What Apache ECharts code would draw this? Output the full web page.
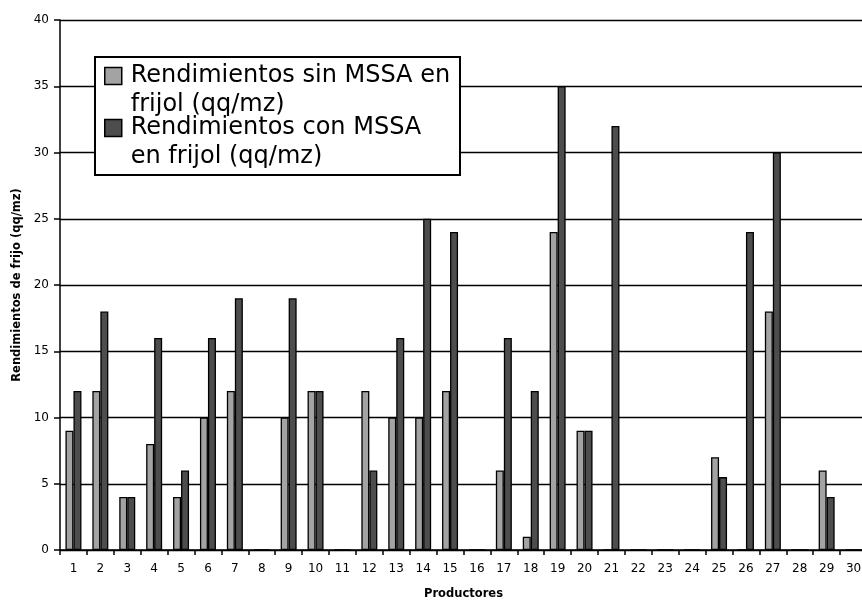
<!DOCTYPE html>
<html>
<head>
<meta charset="utf-8">
<script src="https://cdn.jsdelivr.net/npm/echarts@6/dist/echarts.min.js"></script>
<style>html,body{margin:0;padding:0;background:#fff;}#c{width:862px;height:601px;}</style>
</head>
<body>
<div id="c"></div>
<script>
var categories = ['1','2','3','4','5','6','7','8','9','10','11','12','13','14','15','16','17','18','19','20','21','22','23','24','25','26','27','28','29','30'];
var sinMSSA = [9,12,4,8,4,10,12,0,10,12,0,12,10,10,12,0,6,1,24,9,0,0,0,0,7,0,18,0,6,0];
var conMSSA = [12,18,4,16,6,16,19,0,19,12,0,6,16,25,24,0,16,12,35,9,32,0,0,0,5.5,24,30,0,4,0];
var seriesNames = ['Rendimientos sin MSSA en frijol (qq/mz)', 'Rendimientos con MSSA en frijol (qq/mz)'];
var legendLabels = ['Rendimientos sin MSSA en\nfrijol (qq/mz)', 'Rendimientos con MSSA\nen frijol (qq/mz)'];
var yTicks = {min: 0, max: 40, interval: 5};
var xTitle = 'Productores';
var yTitle = 'Rendimientos de frijo (qq/mz)';

var chart = echarts.init(document.getElementById('c'), null, {renderer: 'canvas'});
var font = 'DejaVu Sans';
chart.setOption({
  animation: false,
  backgroundColor: '#ffffff',
  grid: {left: 60, top: 20, width: 807, height: 530, containLabel: false, outerBoundsMode: 'none'},
  graphic: [{
    type: 'rect', z: 3,
    shape: {x: 95, y: 57, width: 365, height: 118},
    style: {fill: '#ffffff', stroke: '#000000', lineWidth: 2}
  }],
  legend: {
    z: 5,
    orient: 'vertical',
    left: 104, top: 32.5,
    padding: 0,
    itemGap: -35,
    itemWidth: 17, itemHeight: 17,
    icon: 'rect',
    itemStyle: {borderColor: '#000', borderWidth: 1.5},
    formatter: function (name) { return '\n' + legendLabels[seriesNames.indexOf(name)]; },
    textStyle: {fontFamily: font, fontSize: 24, lineHeight: 29, color: '#000', padding: [0, 0, 0, 4]},
    data: seriesNames
  },
  xAxis: {
    type: 'category',
    data: categories,
    boundaryGap: true,
    name: xTitle,
    nameLocation: 'middle',
    nameGap: 38,
    nameTextStyle: {fontFamily: font, fontWeight: 'bold', fontSize: 11.5, color: '#000'},
    axisLine: {lineStyle: {color: '#000', width: 1.5}},
    axisTick: {show: true, alignWithLabel: false, length: 5, lineStyle: {color: '#000', width: 1.5}},
    axisLabel: {interval: 0, margin: 13, fontFamily: font, fontSize: 12, color: '#000'},
    splitLine: {show: false}
  },
  yAxis: {
    type: 'value',
    min: yTicks.min, max: yTicks.max, interval: yTicks.interval,
    name: yTitle,
    nameLocation: 'middle',
    nameRotate: 90,
    nameGap: 32,
    nameTextStyle: {fontFamily: font, fontWeight: 'bold', fontSize: 11.5, color: '#000'},
    axisLine: {show: true, lineStyle: {color: '#000', width: 1.5}},
    axisTick: {show: true, length: 6, lineStyle: {color: '#000', width: 1.5}},
    axisLabel: {margin: 11, fontFamily: font, fontSize: 12, color: '#000'},
    splitLine: {show: true, lineStyle: {color: '#000', width: 1.3}}
  },
  series: [
    {
      name: seriesNames[0], type: 'bar', data: sinMSSA,
      barWidth: 8, barGap: '0%',
      itemStyle: {color: '#a3a3a3', borderColor: '#000', borderWidth: 1.3}
    },
    {
      name: seriesNames[1], type: 'bar', data: conMSSA,
      barWidth: 8, barGap: '0%',
      itemStyle: {color: '#4d4d4d', borderColor: '#000', borderWidth: 1.3}
    }
  ]
});
</script>
</body>
</html>
